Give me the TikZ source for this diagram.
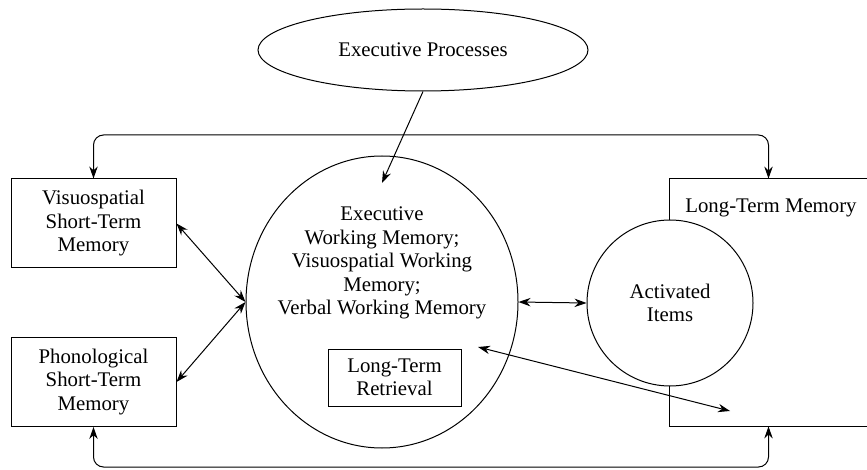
\documentclass[tikz,border=0pt]{standalone}
\usepackage{fontspec}
\setmainfont{Liberation Serif}
\usetikzlibrary{arrows.meta, shapes.geometric, positioning, calc}
\tikzset{
  box/.style={
    rectangle, draw, line width=0.5pt, inner sep=0pt,
    minimum width=82.5pt, minimum height=44.5pt, align=center
  },
  oval/.style={
    ellipse, draw, line width=0.5pt, inner sep=0pt, align=center
  },
  arrow/.style={-{Stealth[length=6pt,width=4.2pt]}, line width=0.5pt},
  darrow/.style={{Stealth[length=6pt,width=4.2pt]}-{Stealth[length=6pt,width=4.2pt]}, line width=0.5pt}
}

\begin{document}
\begin{tikzpicture}[x=0.5pt, y=-0.5pt, font=\fontsize{10.4}{11.75}\selectfont]
  \useasboundingbox (0,0) rectangle (867,470);

  % long-term memory store, open to the right
  \node[minimum width=98.5pt, minimum height=123.5pt, inner sep=0pt] at (768.5,302.5) (ltm) {};
  \draw[line width=0.5pt] (ltm.north east) -- (ltm.north west) -- (ltm.south west) -- (ltm.south east);
  \node at (771,208) (ltmlabel) {Long-Term Memory};

  \node[oval, minimum width=165pt, minimum height=41pt] at (423,50) (exec) {Executive Processes};
  \node[oval, minimum width=136pt, minimum height=146pt] at (382,302) (wm) {};
  \node[align=center] at (382,263) (wmtext)
    {Executive\\Working Memory;\\Visuospatial Working\\Memory;\\Verbal Working Memory};
  \node[box, minimum width=66.5pt, minimum height=28.5pt] at (394.5,377.5) (ltr) {Long-Term\\Retrieval};

  \node[box] at (93.5,223.5) (vsstm) {Visuospatial\\Short-Term\\Memory};
  \node[box] at (93.5,382) (phstm) {Phonological\\Short-Term\\Memory};

  \node[circle, draw, fill=white, line width=0.5pt, minimum size=83pt, inner sep=0pt, align=center]
    at (670,303) (act) {Activated\\Items};

  \coordinate (toprail) at (0,135);
  \coordinate (botrail) at (0,467);
  \coordinate (wmtop) at (382,183);
  \coordinate (ltrin) at (478,347);
  \coordinate (ltmin) at (730,411);

  \draw[arrow] (exec.south) -- (wmtop);
  \draw[darrow] (vsstm.east) -- (wm.west);
  \draw[darrow] (phstm.east) -- (wm.west);
  \draw[darrow] (wm.east) -- (act.west);
  \draw[darrow] (ltrin) -- (ltmin);

  \draw[darrow, rounded corners=5pt] (vsstm.north) -- (vsstm.north |- toprail) -- (ltm.north |- toprail) -- (ltm.north);
  \draw[darrow, rounded corners=5pt] (phstm.south) -- (phstm.south |- botrail) -- (ltm.south |- botrail) -- (ltm.south);
\end{tikzpicture}
\end{document}
